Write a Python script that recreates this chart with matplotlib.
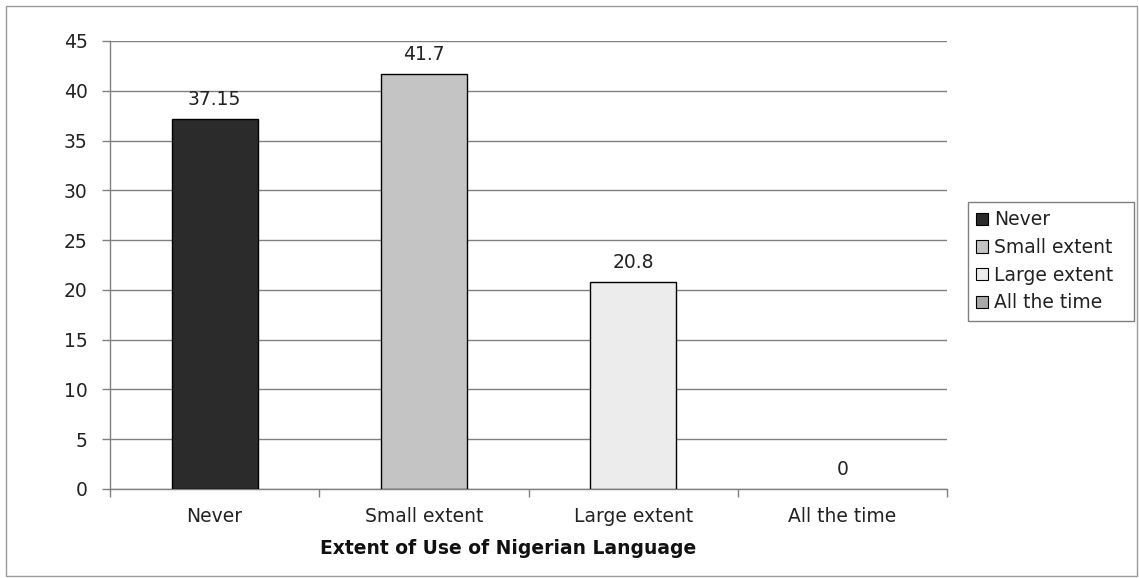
import matplotlib
matplotlib.use("Agg")
import matplotlib.pyplot as plt
from matplotlib.patches import Patch, Rectangle

categories = ["Never", "Small extent", "Large extent", "All the time"]
values = [37.15, 41.7, 20.8, 0]
value_labels = ["37.15", "41.7", "20.8", "0"]
colors = ["#2b2b2b", "#c4c4c4", "#ececec", "#a9a9a9"]
y_ticks = [0, 5, 10, 15, 20, 25, 30, 35, 40, 45]
x_label = "Extent of Use of Nigerian Language"

W, H = 1139, 578
FS = 13.5
plt.rcParams['font.family'] = ['DejaVu Sans']
fig = plt.figure(figsize=(W / 100, H / 100), dpi=100)
ax = fig.add_axes([110 / W, 1 - 489 / H, (947 - 110) / W, (489 - 41) / H])

x = list(range(len(categories)))
bars = ax.bar(x, values, width=0.41, color=colors, edgecolor="black", linewidth=1.0, zorder=3)
for b, v in zip(bars, values):
    if v == 0:
        b.set_linewidth(0)
for xi, v, lab in zip(x, values, value_labels):
    ax.text(xi, v + 1.0, lab, ha="center", va="bottom", fontsize=FS, color="#222222", zorder=4)

ax.set_xlim(-0.5, len(categories) - 0.5)
ax.set_ylim(0, 45)
ax.set_yticks(y_ticks)
ax.set_yticklabels([str(t) for t in y_ticks], fontsize=FS, color="#222222")
ax.yaxis.grid(True, color="#808080", linewidth=1.0, zorder=0)
ax.set_axisbelow(True)

ax.set_xticks(x)
ax.set_xticklabels(categories, fontsize=FS, color="#222222")
ax.tick_params(axis="x", which="major", length=0, pad=13)
ax.set_xticks([i - 0.5 for i in range(len(categories) + 1)], minor=True)
ax.tick_params(axis="x", which="minor", length=6, color="#808080", width=1)
ax.tick_params(axis="y", length=6, color="#808080", width=1, pad=10)

for side in ["top", "right"]:
    ax.spines[side].set_visible(False)
for side in ["left", "bottom"]:
    ax.spines[side].set_color("#808080")
    ax.spines[side].set_linewidth(1.0)

fig.text(508 / W, 1 - 548 / H, x_label, ha="center", va="center", fontsize=FS,
         fontweight="bold", color="#111111")

handles = [Patch(facecolor=c, edgecolor="black", linewidth=0.8) for c in colors]
leg = fig.legend(handles, categories, loc="upper left",
                 bbox_to_anchor=(968 / W, 1 - 203 / H), bbox_transform=fig.transFigure,
                 borderaxespad=0, fontsize=FS, frameon=False,
                 handlelength=0.65, handleheight=0.65,
                 handletextpad=0.35, labelspacing=0.46, borderpad=0.4)
for t in leg.get_texts():
    t.set_color("#222222")
# legend frame box
fig.patches.append(Rectangle((968 / W, 1 - 321 / H), (1134 - 968) / W, (321 - 202) / H,
                             transform=fig.transFigure, fill=False,
                             edgecolor="#808080", linewidth=1.0))

fig.patches.append(Rectangle((6 / W, 2 / H), (1137 - 6) / W, (572 - 2) / H,
                             transform=fig.transFigure, fill=False,
                             edgecolor="#9a9a9a", linewidth=1.0))

fig.savefig("out.png", dpi=100)
